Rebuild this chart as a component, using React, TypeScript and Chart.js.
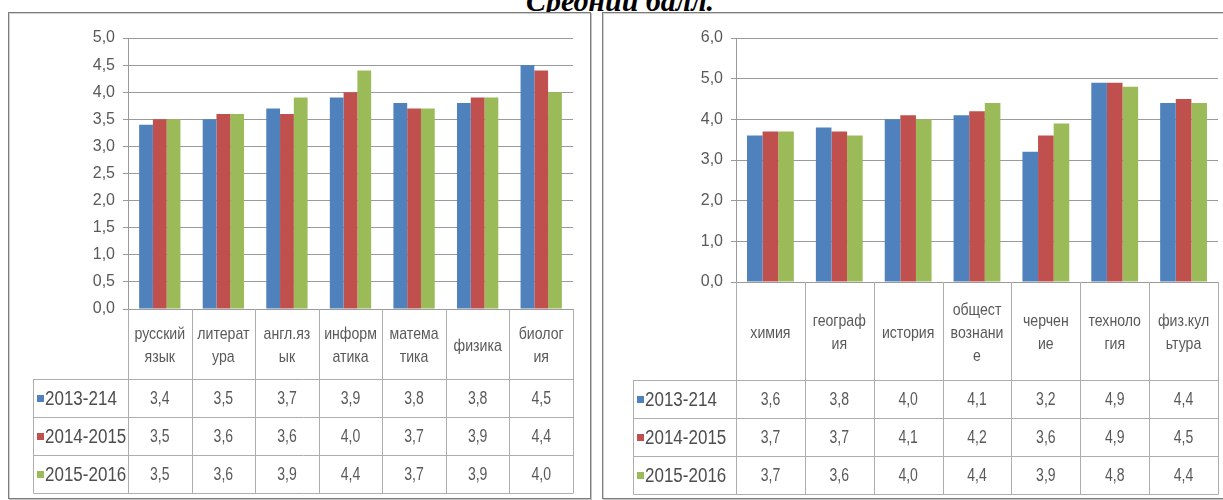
import React, { useEffect, useRef } from "react";
import { Chart, registerables } from "chart.js";

Chart.register(...registerables);

// ---------- data ----------
const titleText = "Средний балл.";

const seriesLabels = ["2013-214", "2014-2015", "2015-2016"];
const seriesColors = ["#4F81BD", "#C0504D", "#9BBB59"];

const leftCategories = [
  ["русский", "язык"],
  ["литерат", "ура"],
  ["англ.яз", "ык"],
  ["информ", "атика"],
  ["матема", "тика"],
  ["физика"],
  ["биолог", "ия"],
];
const left2013 = [3.4, 3.5, 3.7, 3.9, 3.8, 3.8, 4.5];
const left2014 = [3.5, 3.6, 3.6, 4.0, 3.7, 3.9, 4.4];
const left2015 = [3.5, 3.6, 3.9, 4.4, 3.7, 3.9, 4.0];
const leftYMax = 5;
const leftYStep = 0.5;

const rightCategories = [
  ["химия"],
  ["географ", "ия"],
  ["история"],
  ["общест", "вознани", "е"],
  ["черчен", "ие"],
  ["техноло", "гия"],
  ["физ.кул", "ьтура"],
];
const right2013 = [3.6, 3.8, 4.0, 4.1, 3.2, 4.9, 4.4];
const right2014 = [3.7, 3.7, 4.1, 4.2, 3.6, 4.9, 4.5];
const right2015 = [3.7, 3.6, 4.0, 4.4, 3.9, 4.8, 4.4];
const rightYMax = 6;
const rightYStep = 1;

// ---------- styles ----------
const SANS = '"Liberation Sans", Arial, sans-serif';
const TEXT = "#595959";
const GRID = "#9a9a9a";
const TABLE_LINE = "#adadad";

type PanelProps = {
  categories: string[][];
  series: number[][];
  yMax: number;
  yStep: number;
  left: number;
  top: number;
  width: number;
  height: number;
  axisX: number;
  plotTop: number;
  zeroY: number;
  rightX: number;
  legendX: number;
  headerH: number;
  rowH: number;
  catPct: number;
};

function fmt(v: number) {
  return Number(v).toFixed(1).replace(".", ",");
}

function drawText(
  ctx: CanvasRenderingContext2D,
  text: string,
  x: number,
  y: number,
  size: number,
  color: string,
  sx: number,
  align: CanvasTextAlign
) {
  ctx.save();
  ctx.font = `${size}px ${SANS}`;
  ctx.fillStyle = color;
  ctx.textBaseline = "middle";
  ctx.textAlign = align;
  ctx.translate(x, y);
  ctx.scale(sx, 1);
  ctx.fillText(text, 0, 0);
  ctx.restore();
}

function BarTablePanel(p: PanelProps) {
  const ref = useRef<HTMLCanvasElement>(null);

  useEffect(() => {
    const canvas = ref.current;
    if (!canvas) return;

    const tablePlugin = {
      id: "dataTable",
      afterDraw(chart: any) {
        const ctx: CanvasRenderingContext2D = chart.ctx;
        const area = chart.chartArea;
        const xs = chart.scales.x;
        const n = p.categories.length;
        const colW = xs.getPixelForValue(1) - xs.getPixelForValue(0);
        const edges: number[] = [];
        for (let i = 0; i < n; i++) edges.push(xs.getPixelForValue(i) - colW / 2);
        edges.push(xs.getPixelForValue(n - 1) + colW / 2);

        const top0 = area.bottom;
        const rowsTop = top0 + p.headerH;
        const nRows = p.series.length;
        const bottom = rowsTop + p.rowH * nRows;

        ctx.save();
        ctx.strokeStyle = TABLE_LINE;
        ctx.lineWidth = 1;
        ctx.beginPath();
        edges.forEach((x) => {
          const xx = Math.round(x) + 0.5;
          ctx.moveTo(xx, top0);
          ctx.lineTo(xx, bottom);
        });
        const lx = Math.round(p.legendX) + 0.5;
        ctx.moveTo(lx, rowsTop);
        ctx.lineTo(lx, bottom);
        for (let r = 0; r <= nRows; r++) {
          const y = Math.round(rowsTop + r * p.rowH) + 0.5;
          ctx.moveTo(lx, y);
          ctx.lineTo(Math.round(edges[n]) + 0.5, y);
        }
        ctx.stroke();
        ctx.restore();

        // category header labels
        const lineH = 23;
        const headMid = top0 + p.headerH / 2 + 2;
        p.categories.forEach((lines, i) => {
          const cx = xs.getPixelForValue(i);
          const startY = headMid - ((lines.length - 1) * lineH) / 2;
          lines.forEach((ln, k) => {
            drawText(ctx, ln, cx, startY + k * lineH, 17, TEXT, 0.83, "center");
          });
        });

        // rows: legend + values
        p.series.forEach((vals, r) => {
          const cy = rowsTop + r * p.rowH + p.rowH / 2 + 1;
          ctx.fillStyle = seriesColors[r];
          ctx.fillRect(p.legendX + 4, Math.round(cy - 4), 7, 7);
          drawText(ctx, seriesLabels[r], p.legendX + 12, cy, 20, "#4d4d4d", 0.85, "left");
          vals.forEach((v, i) => {
            drawText(ctx, fmt(v), xs.getPixelForValue(i), cy, 18, TEXT, 0.78, "center");
          });
        });
      },
    };

    const chart = new Chart(canvas, {
      type: "bar",
      data: {
        labels: p.categories.map((c) => c.join("")),
        datasets: p.series.map((vals, i) => ({
          label: seriesLabels[i],
          data: vals,
          backgroundColor: seriesColors[i],
          borderWidth: 0,
          categoryPercentage: p.catPct,
          barPercentage: 1.0,
        })),
      },
      options: {
        responsive: false,
        animation: false,
        layout: {
          padding: {
            left: 0,
            top: p.plotTop,
            right: p.width - p.rightX,
            bottom: p.height - p.zeroY,
          },
        },
        plugins: {
          legend: { display: false },
          tooltip: { enabled: false },
          title: { display: false },
        },
        scales: {
          x: { display: false, offset: true, grid: { display: false } },
          y: {
            min: 0,
            max: p.yMax,
            afterFit: (scale: any) => {
              scale.width = p.axisX;
            },
            ticks: {
              stepSize: p.yStep,
              color: TEXT,
              padding: 8,
              font: { family: SANS, size: 16 },
              callback: (v: any) => fmt(Number(v)),
            },
            grid: {
              color: GRID,
              lineWidth: 1,
              drawTicks: true,
              tickLength: 5,
            },
            border: { display: true, color: GRID, width: 1 },
          },
        },
      },
      plugins: [tablePlugin],
    } as any);

    return () => chart.destroy();
  }, []);

  return (
    <canvas
      ref={ref}
      width={p.width}
      height={p.height}
      style={{
        position: "absolute",
        left: p.left,
        top: p.top,
        width: p.width,
        height: p.height,
      }}
    />
  );
}

const panelStyle = {
  position: "absolute" as const,
  top: 12,
  height: 487,
  boxSizing: "border-box" as const,
  border: "1px solid #7d7d7d",
  background: "#fff",
  boxShadow: "1px 1px 0px #c4c4c4, inset 1px 1px 0px #d0d0d0",
};

export default function App() {
  return (
    <div
      style={{
        position: "absolute",
        left: 0,
        top: 0,
        width: 1223,
        height: 500,
        overflow: "hidden",
        background: "#ffffff",
      }}
    >
      <div
        style={{
          position: "absolute",
          left: 320,
          top: -14,
          width: 600,
          textAlign: "center",
          fontFamily: '"Liberation Serif", "Times New Roman", serif',
          fontWeight: "bold",
          fontStyle: "italic",
          fontSize: 30,
          lineHeight: "30px",
          color: "#000",
          whiteSpace: "nowrap",
        }}
      >
        {titleText}
      </div>
      <div style={{ ...panelStyle, left: 8, width: 583 }} />
      <div style={{ ...panelStyle, left: 602, width: 700 }} />
      <BarTablePanel
        categories={leftCategories}
        series={[left2013, left2014, left2015]}
        yMax={leftYMax}
        yStep={leftYStep}
        left={9}
        top={12}
        width={581}
        height={486}
        axisX={119}
        plotTop={26}
        zeroY={297}
        rightX={564}
        legendX={24}
        headerH={70}
        rowH={38}
        catPct={0.65}
      />
      <BarTablePanel
        categories={rightCategories}
        series={[right2013, right2014, right2015]}
        yMax={rightYMax}
        yStep={rightYStep}
        left={603}
        top={12}
        width={620}
        height={486}
        axisX={133}
        plotTop={26}
        zeroY={270}
        rightX={615}
        legendX={30}
        headerH={98}
        rowH={38}
        catPct={0.68}
      />
    </div>
  );
}
